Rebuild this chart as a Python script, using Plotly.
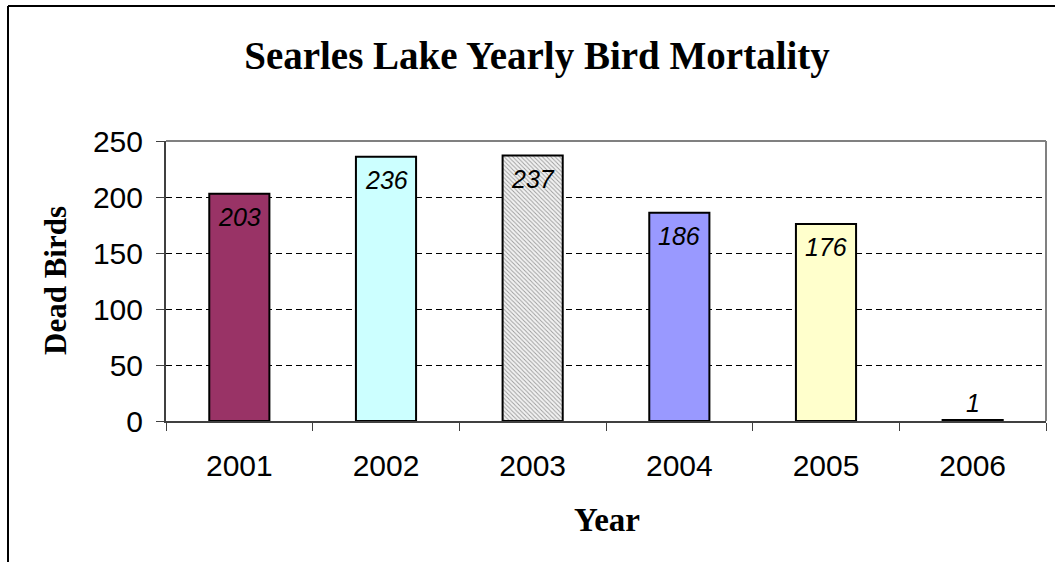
import plotly.graph_objects as go

years = ["2001", "2002", "2003", "2004", "2005", "2006"]
dead_birds = [203, 236, 237, 186, 176, 1]
bar_colors = ["#993366", "#CCFFFF", "#F2F2F2", "#9999FF", "#FFFFCC", "#000000"]
patterns = ["", "", "\\", "", "", ""]
y_ticks = [0, 50, 100, 150, 200, 250]

W, H = 1055, 562
L, R, T, B = 166, 9, 141, 141
pw, ph = W - L - R, H - T - B

def px_x(px):
    return (px - L) / pw

def px_y(py):
    return (H - B - py) / ph

fig = go.Figure()
fig.add_trace(go.Bar(
    x=years, y=dead_birds,
    marker=dict(color=bar_colors,
                line=dict(color="black", width=2),
                pattern=dict(shape=patterns, fgcolor="#9a9a9a", bgcolor="white",
                             size=3, solidity=0.3)),
    hoverinfo="x+y",
))

annotations = []
for i, (yr, v) in enumerate(zip(years, dead_birds)):
    inside = v > 20
    annotations.append(dict(
        x=i, y=v, xref="x", yref="y", text=str(v), showarrow=False,
        font=dict(family="Liberation Sans, Arial", size=25, color="black", style="italic"),
        yanchor="top" if inside else "bottom",
        yshift=-7 if inside else 1,
    ))

annotations.append(dict(
    text="<b>Dead Birds</b>", xref="paper", yref="paper", x=px_x(55), y=px_y(281),
    xanchor="center", yanchor="middle",
    textangle=-90, showarrow=False,
    font=dict(family="Liberation Serif, Times New Roman", size=31, color="black"),
))
annotations.append(dict(
    text="<b>Year</b>", xref="paper", yref="paper", x=px_x(607), y=px_y(520),
    xanchor="center", yanchor="middle",
    showarrow=False,
    font=dict(family="Liberation Serif, Times New Roman", size=33, color="black"),
))

shapes = [
    dict(type="line", xref="paper", yref="paper", x0=px_x(8), x1=px_x(8), y0=px_y(6), y1=px_y(570),
         line=dict(color="black", width=2)),
    dict(type="line", xref="paper", yref="paper", x0=px_x(8), x1=px_x(1070), y0=px_y(6), y1=px_y(6),
         line=dict(color="black", width=2)),
    dict(type="line", xref="paper", yref="paper", x0=0, x1=1, y0=1, y1=1,
         line=dict(color="#808080", width=2)),
    dict(type="line", xref="paper", yref="paper", x0=1, x1=1, y0=0, y1=1,
         line=dict(color="#808080", width=2)),
]

fig.update_layout(
    width=W, height=H,
    margin=dict(l=L, r=R, t=T, b=B, autoexpand=False),
    paper_bgcolor="white", plot_bgcolor="white",
    showlegend=False,
    bargap=0.59,
    title=dict(text="<b>Searles Lake Yearly Bird Mortality</b>",
               x=537 / W, y=1 - 55 / H, xref="container", yref="container",
               xanchor="center", yanchor="middle",
               font=dict(family="Liberation Serif, Times New Roman", size=39, color="black")),
    annotations=annotations,
    shapes=shapes,
    xaxis=dict(type="category", categoryorder="array", categoryarray=years,
               range=[-0.5, len(years) - 0.5], tickangle=0,
               showgrid=False, showline=True, linecolor="#404040", linewidth=2,
               ticks="outside", tickson="boundaries", ticklen=8, tickcolor="#404040", tickwidth=1,
               tickfont=dict(family="Liberation Sans, Arial", size=30, color="black"),
               ticklabelstandoff=17),
    yaxis=dict(range=[0, 250], tickvals=y_ticks, showgrid=True, gridcolor="black", gridwidth=1,
               griddash="6px,4px", showline=True, linecolor="#404040", linewidth=2,
               ticks="outside", ticklen=8, tickcolor="#404040", tickwidth=1,
               tickfont=dict(family="Liberation Sans, Arial", size=30, color="black"),
               ticklabelstandoff=7, zeroline=False),
)

fig.write_html("out.html", config={"displayModeBar": False},
               post_script="document.body.style.margin='0px';")
